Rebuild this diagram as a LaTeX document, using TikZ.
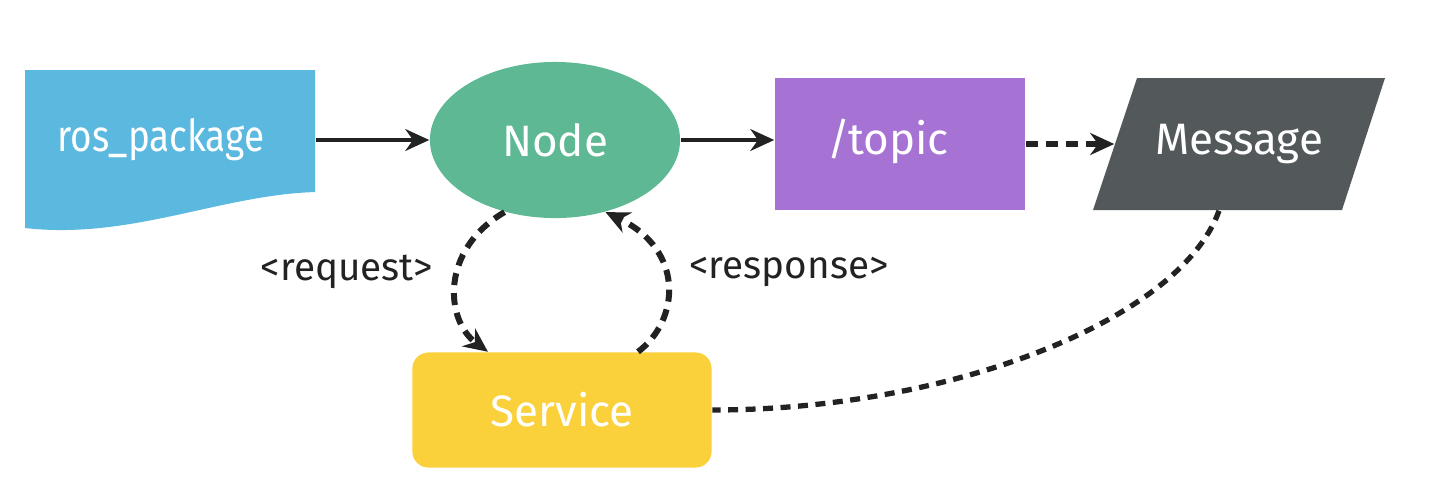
\documentclass[tikz,border=0pt]{standalone}
\usepackage{xcolor}
\usepackage{fontspec}
\setmainfont{Fira Sans}
\newfontfamily\narrowsans{Fira Sans}[FakeStretch=0.84]
\usepackage{tikz}
\usetikzlibrary{shapes.geometric, arrows.meta}

\definecolor{pkgblue}{HTML}{5BB8DF}
\definecolor{nodegreen}{HTML}{5DB893}
\definecolor{topicpurple}{HTML}{A672D3}
\definecolor{msggray}{HTML}{53595B}
\definecolor{srvyellow}{HTML}{FAD03B}
\definecolor{linegray}{HTML}{222222}

\begin{document}
\begin{tikzpicture}[x=0.01cm, y=-0.01cm]
      \tikzstyle{label} = [inner sep=0pt, text=white, font=\fontsize{12.5}{14}\selectfont]
      \tikzstyle{note} = [inner sep=0pt, text=linegray, font=\fontsize{11}{13}\selectfont]
      \tikzstyle{flow} = [draw=linegray, line width=0.9pt,
                          -{Stealth[length=2.4mm, width=2.2mm]}]
      \tikzstyle{call} = [draw=linegray, line width=1.7pt,
                          dash pattern=on 1.2mm off 0.8mm,
                          -{Stealth[length=2.4mm, width=2.2mm]}]
      \tikzstyle{link} = [draw=linegray, line width=1.5pt,
                          dash pattern=on 1mm off 0.75mm]

      \useasboundingbox (0,0) rectangle (1436,490);

      % package sheet with a wavy bottom
      \fill[pkgblue] (25,70) -- (315,70) -- (315,192)
            .. controls (220,195) and (130,240) .. (25,228) -- cycle;
      \node[label, font=\narrowsans\fontsize{12.5}{14}\selectfont,
            minimum width=2.9cm, minimum height=1.6cm] (pkg) at (170,140) {};
      \node[label, font=\narrowsans\fontsize{12.5}{14}\selectfont] (pkgtext) at (161,140) {ros\_package};

      \node[label, ellipse, fill=nodegreen, minimum width=2.5cm,
            minimum height=1.56cm] (node) at (555,140) {Node};
      \node[label, rectangle, fill=topicpurple, minimum width=2.5cm,
            minimum height=1.32cm] (topic) at (900,144) {};
      \node[label] (topictext) at (888,141) {/topic};

      % message parallelogram
      \fill[msggray] (1137,78) -- (1385,78) -- (1342,210) -- (1093,210) -- cycle;
      \node[label, minimum width=2.48cm, minimum height=1.32cm] (msg) at (1239,144) {Message};

      \node[label, rectangle, rounded corners=1.6mm, fill=srvyellow,
            minimum width=2.99cm, minimum height=1.15cm] (srv) at (562,410) {Service};

      \node[note] (req) at (347,272) {<request>};
      \node[note] (resp) at (789,272) {<response>};

      \draw[flow] (pkg.east) -- (node.west);
      \draw[flow] (node.east) -- (node.east -| topic.west);
      \draw[call] (topic.east) -- (msg.west);
      \draw[call] (node.-125) .. controls (440,250) and (445,320) .. ([xshift=-7.4mm]srv.north);
      \draw[call] ([xshift=7.6mm]srv.north) .. controls (680,320) and (685,250) .. (node.-55);
      \draw[link] ([xshift=-2mm]msg.south) .. controls (1180,320) and (950,410) .. (srv.east);
    \end{tikzpicture}
\end{document}
